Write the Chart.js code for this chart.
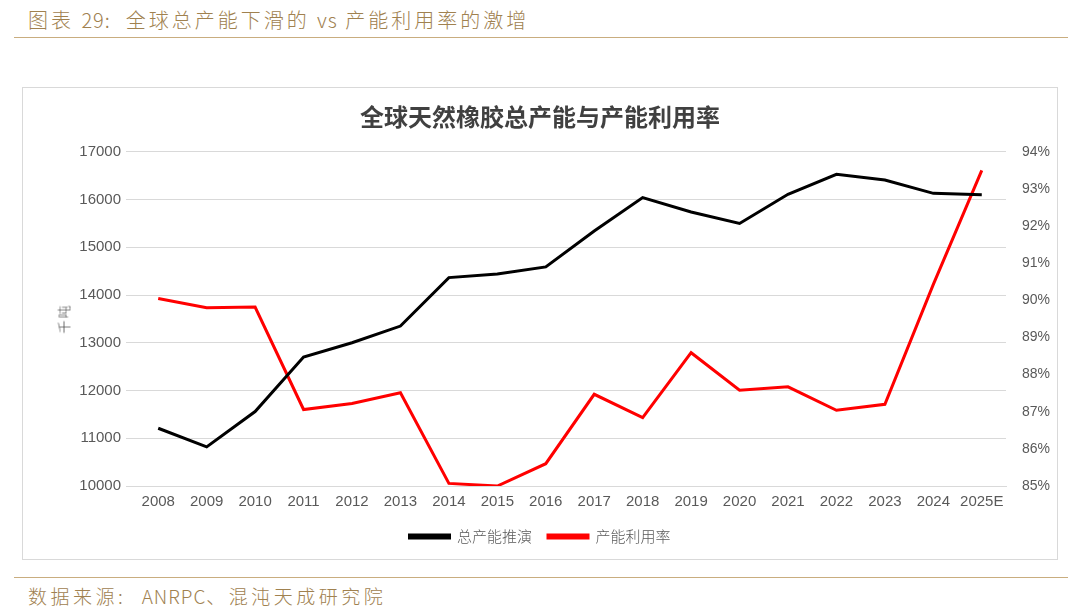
<!DOCTYPE html>
<html>
<head>
<meta charset="utf-8">
<script src="https://cdn.jsdelivr.net/npm/chart.js@4.4.1/dist/chart.umd.min.js"></script>
<style>
  body { margin: 0; width: 1080px; height: 616px; background: #fff; position: relative; overflow: hidden;
         font-family: "Noto Sans CJK SC", sans-serif; }
  .head { position: absolute; left: 28px; top: 5px; font-size: 20px; font-weight: 300; color: #a0814f; letter-spacing: 3px; }
  .rule { position: absolute; left: 14px; width: 1054px; height: 1px; background: #c9ad7f; }
  .src { position: absolute; left: 28px; top: 582px; font-size: 19px; font-weight: 300; color: #a0814f; letter-spacing: 3.5px; }
  .lat { letter-spacing: 1px; }
  .box { position: absolute; left: 22px; top: 87px; width: 1036px; height: 473px; border: 1px solid #d9d9d9; box-sizing: border-box; }
  .unit { position: absolute; left: 48px; top: 309px; font-size: 13px; font-weight: 300; color: #404040; letter-spacing: 2px;
          transform: rotate(-90deg); transform-origin: center; }
</style>
</head>
<body>
<div class="head">图表 <span class="lat">29:</span>&nbsp; 全球总产能下滑的 <span class="lat">vs</span> 产能利用率的激增</div>
<div class="rule" style="top:37px"></div>
<div class="box"><canvas id="cap"></canvas></div>
<div class="unit">千吨</div>
<div class="rule" style="top:577px"></div>
<div class="src">数据来源:&nbsp; <span class="lat">ANRPC</span>、混沌天成研究院</div>
<script>
  const years = ['2008', '2009', '2010', '2011', '2012', '2013', '2014', '2015', '2016',
                 '2017', '2018', '2019', '2020', '2021', '2022', '2023', '2024', '2025E'];
  // 总产能推演, 千吨
  const capacity = [11210, 10820, 11560, 12700, 13000, 13350, 14365, 14440, 14590,
                    15340, 16040, 15740, 15500, 16110, 16530, 16410, 16130, 16100];
  // 产能利用率, %
  const utilization = [90.05, 89.8, 89.82, 87.06, 87.22, 87.51, 85.07, 85.0, 85.6,
                       87.47, 86.84, 88.59, 87.58, 87.67, 87.04, 87.2, 90.43, 93.5];

  const tickFont = { family: '"Liberation Sans", Arial, sans-serif', size: 15 };

  const ctx = document.getElementById('cap').getContext('2d');
  const capChart = new Chart(ctx, {
    type: 'line',
    data: {
      labels: years,
      datasets: [{
        label: '总产能推演',
        data: capacity,
        borderColor: '#000000',
        backgroundColor: '#000000',
        borderWidth: 3,
        pointRadius: 0,
        tension: 0,
        yAxisID: 'y'
      }, {
        label: '产能利用率',
        data: utilization,
        borderColor: '#ff0000',
        backgroundColor: '#ff0000',
        borderWidth: 3,
        pointRadius: 0,
        tension: 0,
        yAxisID: 'y1'
      }]
    },
    options: {
      responsive: true,
      maintainAspectRatio: false,
      animation: false,
      layout: { padding: { top: 0, bottom: 6, left: 0, right: 0 } },
      plugins: {
        title: {
          display: true,
          text: '全球天然橡胶总产能与产能利用率',
          color: '#404040',
          font: { family: '"Noto Sans CJK SC", sans-serif', size: 24, weight: 'bold' },
          padding: { top: 14, bottom: 21 }
        },
        legend: {
          position: 'bottom',
          maxHeight: 40,
          labels: {
            color: '#595959',
            font: { family: '"Noto Sans CJK SC", sans-serif', size: 15, weight: 300 },
            boxWidth: 40,
            boxHeight: 3,
            padding: 16
          }
        },
        tooltip: { enabled: false }
      },
      scales: {
        x: {
          offset: true,
          grid: { display: false, tickLength: 5 },
          border: { display: true, color: '#d9d9d9' },
          ticks: { color: '#595959', font: tickFont, maxRotation: 0, autoSkip: false, padding: 2 }
        },
        y: {
          position: 'left',
          min: 10000,
          max: 17000,
          grid: { color: '#d9d9d9' },
          border: { display: false },
          ticks: { stepSize: 1000, color: '#595959', font: tickFont, padding: 5,
                   callback: function (v) { return String(v); } },
          afterFit: function (axis) { axis.width = 111; }
        },
        y1: {
          position: 'right',
          min: 85,
          max: 94,
          grid: { display: false },
          border: { display: false },
          ticks: { stepSize: 1, color: '#595959', font: { family: tickFont.family, size: 14 }, padding: 8,
                   callback: function (v) { return v + '%'; } },
          afterFit: function (axis) { axis.width = 51; }
        }
      }
    }
  });
</script>
</body>
</html>
